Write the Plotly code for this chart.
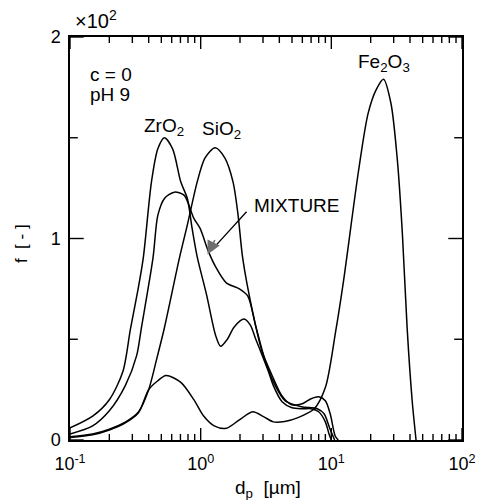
import math
import plotly.graph_objects as go

# Particle size distributions f(dp), scaled by 10^2
zro2_d = [0.1, 0.15, 0.2, 0.254, 0.29, 0.33, 0.364, 0.42, 0.47, 0.528, 0.61, 0.705,
          0.79, 0.86, 0.94, 1.11, 1.3, 1.42, 1.6, 1.8, 2.15, 2.4, 2.64, 3.0, 3.3, 3.6,
          4.2, 5.0, 6.0, 7.0, 8.0, 9.0, 9.6, 10.0]
zro2_f = [0.06, 0.12, 0.2, 0.34, 0.55, 0.74, 0.905, 1.28, 1.445, 1.5, 1.445, 1.28,
          1.2, 1.05, 0.91, 0.72, 0.52, 0.465, 0.5, 0.56, 0.60, 0.57, 0.5, 0.41, 0.34, 0.27,
          0.19, 0.16, 0.155, 0.155, 0.14, 0.09, 0.03, 0.0]

sio2_d = [0.1, 0.149, 0.2, 0.265, 0.334, 0.40, 0.46, 0.528, 0.686, 0.79, 0.94, 1.08,
          1.29, 1.53, 1.77, 1.93, 2.1, 2.5, 2.95, 3.52, 4.18, 4.97, 6.0, 7.0, 8.0, 9.0,
          9.8, 10.7, 11.3]
sio2_f = [0.016, 0.03, 0.054, 0.089, 0.139, 0.25, 0.4, 0.557, 0.9, 1.066, 1.28, 1.4,
          1.45, 1.40, 1.28, 1.12, 0.9, 0.635, 0.44, 0.32, 0.22, 0.175, 0.18, 0.205, 0.215, 0.195,
          0.13, 0.02, 0.0]

mix_d = [0.1, 0.149, 0.2, 0.265, 0.324, 0.352, 0.432, 0.47, 0.53, 0.628, 0.746, 0.887,
         0.99, 1.14, 1.3, 1.57, 1.98, 2.29, 2.64, 3.13, 3.72, 4.42, 5.89, 7.81, 8.8, 9.7,
         10.6]
mix_f = [0.03, 0.07, 0.145, 0.27, 0.42, 0.557, 0.905, 1.115, 1.2, 1.23, 1.215, 1.1,
         1.05, 0.94, 0.86, 0.78, 0.75, 0.715, 0.565, 0.39, 0.27, 0.195, 0.165, 0.155, 0.13, 0.06,
         0.0]

fe2o3_d = [0.1, 0.149, 0.2, 0.265, 0.334, 0.40, 0.47, 0.543, 0.705, 0.887, 1.05, 1.27,
           1.57, 1.98, 2.5, 3.05, 3.6, 4.4, 5.5, 7.4, 9.0, 10.8, 12.4, 16.1, 19.1, 22.1,
           25.1, 28.6, 32.0, 35.0, 38.0, 41.5, 44.5]
fe2o3_f = [0.012, 0.026, 0.05, 0.085, 0.135, 0.25, 0.294, 0.32, 0.286, 0.2, 0.12, 0.07,
           0.058, 0.10, 0.14, 0.115, 0.09, 0.092, 0.11, 0.155, 0.26, 0.54, 0.79, 1.33, 1.62, 1.74,
           1.79, 1.67, 1.39, 1.02, 0.56, 0.2, 0.0]

x_tick_vals = [0.1, 1, 10, 100]
x_tick_text = ["10<sup>-1</sup>", "10<sup>0</sup>", "10<sup>1</sup>", "10<sup>2</sup>"]
x_minor_vals = [m * 10 ** e for e in (-1, 0, 1) for m in range(2, 10)]
y_tick_vals = [0, 1, 2]
y_tick_text = ["0", "1", "2"]
y_minor_vals = [0.5, 1.5]

FONT = "Liberation Sans, Arial, sans-serif"
LINE = dict(color="black", width=1.5, shape="spline", smoothing=0.8)

W, H = 488, 500
L, R, T, B = 70, 17, 37, 60
pw, ph = W - L - R, H - T - B
X_LOG = (-1, 2)
Y_LIN = (0, 2)

fig = go.Figure()
for d, f in [(fe2o3_d, fe2o3_f), (sio2_d, sio2_f), (mix_d, mix_f), (zro2_d, zro2_f)]:
    fig.add_trace(go.Scatter(x=d, y=f, mode="lines", line=LINE, showlegend=False,
                             hoverinfo="skip"))

# Inward tick marks on all four sides; lengths given in pixels
dy_per_px = (Y_LIN[1] - Y_LIN[0]) / ph
dlog_per_px = (X_LOG[1] - X_LOG[0]) / pw
x_lo, x_hi = 10 ** X_LOG[0], 10 ** X_LOG[1]
tx, ty = [], []
for vals, n in [(x_tick_vals, 12), (x_minor_vals, 6)]:
    h = n * dy_per_px
    for v in vals:
        tx += [v, v, None, v, v, None]
        ty += [Y_LIN[0], Y_LIN[0] + h, None, Y_LIN[1], Y_LIN[1] - h, None]
for vals, n in [(y_tick_vals, 14), (y_minor_vals, 8)]:
    k = 10 ** (n * dlog_per_px)
    for v in vals:
        tx += [x_lo, x_lo * k, None, x_hi, x_hi / k, None]
        ty += [v, v, None, v, v, None]
fig.add_trace(go.Scatter(x=tx, y=ty, mode="lines", line=dict(color="black", width=1.4),
                         cliponaxis=False, showlegend=False, hoverinfo="skip"))


def px(x, y):
    """Convert pixel position to paper coordinates."""
    return (x - L) / pw, (H - B - y) / ph


def text(s, x, y, xanchor="center", size=19, angle=0):
    xp, yp = px(x, y)
    fig.add_annotation(text=s, x=xp, y=yp, xref="paper", yref="paper",
                       xanchor=xanchor, yanchor="middle", showarrow=False,
                       textangle=angle, font=dict(family=FONT, size=size, color="black"))


text("×10<sup>2</sup>", 73, 20, xanchor="left", size=20)
text("c = 0", 88, 74, xanchor="left")
text("pH 9", 88, 94, xanchor="left")
text("ZrO<sub>2</sub>", 166, 127)
text("SiO<sub>2</sub>", 225, 130)
text("MIXTURE", 256, 206, xanchor="left")
text("Fe<sub>2</sub>O<sub>3</sub>", 391, 63)
text("d<sub>p</sub>  [µm]", 273, 489, size=19)
text("f  [ - ]", 20, 244, angle=-90, size=17)

# Arrow pointing at the mixture curve (annotation x values are log10 on a log axis)
tip = (math.log10(1.13), 0.92)
tail = (math.log10(2.3), 1.14)
fig.add_annotation(x=tip[0], y=tip[1], ax=tail[0], ay=tail[1], xref="x", yref="y",
                   axref="x", ayref="y", text="", showarrow=True, arrowhead=0,
                   arrowwidth=1.3, arrowcolor="black", standoff=6)
fig.add_annotation(x=tip[0], y=tip[1], ax=math.log10(1.3), ay=1.0, xref="x", yref="y",
                   axref="x", ayref="y", text="", showarrow=True, arrowhead=2,
                   arrowsize=1.7, arrowwidth=1.6, arrowcolor="#6e6e6e")

fig.update_layout(
    width=W, height=H, margin=dict(l=L, r=R, t=T, b=B),
    plot_bgcolor="white", paper_bgcolor="white",
    font=dict(family=FONT, color="black"),
    xaxis=dict(type="log", range=list(X_LOG), tickvals=x_tick_vals, ticktext=x_tick_text,
               ticks="", showline=True, mirror=True, linecolor="black", linewidth=1.5,
               showgrid=False, zeroline=False, ticklabelstandoff=7,
               tickfont=dict(family=FONT, size=18, color="black")),
    yaxis=dict(range=list(Y_LIN), tickvals=y_tick_vals, ticktext=y_tick_text,
               ticks="", showline=True, mirror=True, linecolor="black", linewidth=1.5,
               showgrid=False, zeroline=False, ticklabelstandoff=4,
               tickfont=dict(family=FONT, size=18, color="black")),
)

fig.write_html("out.html")
